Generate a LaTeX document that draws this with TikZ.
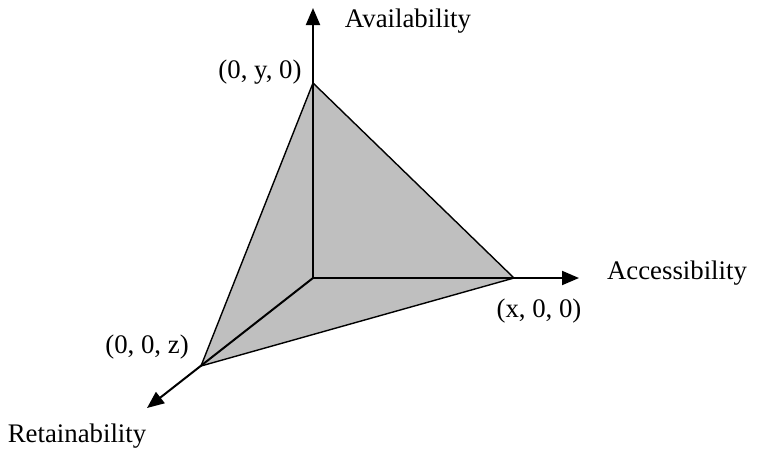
\documentclass[tikz,border=0pt]{standalone}
\usepackage{fontspec}
\setmainfont{Liberation Serif}
\usetikzlibrary{arrows.meta}

\tikzset{
  axis/.style={line width=1pt, -{Triangle[length=8.5pt,width=7pt]}},
  face/.style={fill=black!25, draw=black, line width=0.7pt, line join=round},
  lbl/.style={font=\fontsize{13.4}{15}\selectfont, inner sep=0pt}
}

\begin{document}
\begin{tikzpicture}[x=0.5pt, y=-0.5pt]
\useasboundingbox (0,0) rectangle (757,457);
% origin and the three intercepts
\coordinate (o) at (313,278);
\coordinate (py) at (313,83);
\coordinate (px) at (514,278);
\coordinate (pz) at (201,366);
% axis ends
\coordinate (ty) at (313,8);
\coordinate (tx) at (579,278);
\coordinate (tz) at (147,408);
\filldraw[face] (py) -- (px) -- (pz) -- cycle;
\foreach \t in {ty, tx, tz}{
  \draw[axis] (o) -- (\t);
}
\node[lbl] (avail) at (408,21) {Availability};
\node[lbl] (access) at (677,273) {Accessibility};
\node[lbl] (retain) at (77,436) {Retainability};
\node[lbl] (ly) at (260,72) {(0, y, 0)};
\node[lbl] (lx) at (539,311) {(x, 0, 0)};
\node[lbl] (lz) at (147,347) {(0, 0, z)};
\end{tikzpicture}
\end{document}
